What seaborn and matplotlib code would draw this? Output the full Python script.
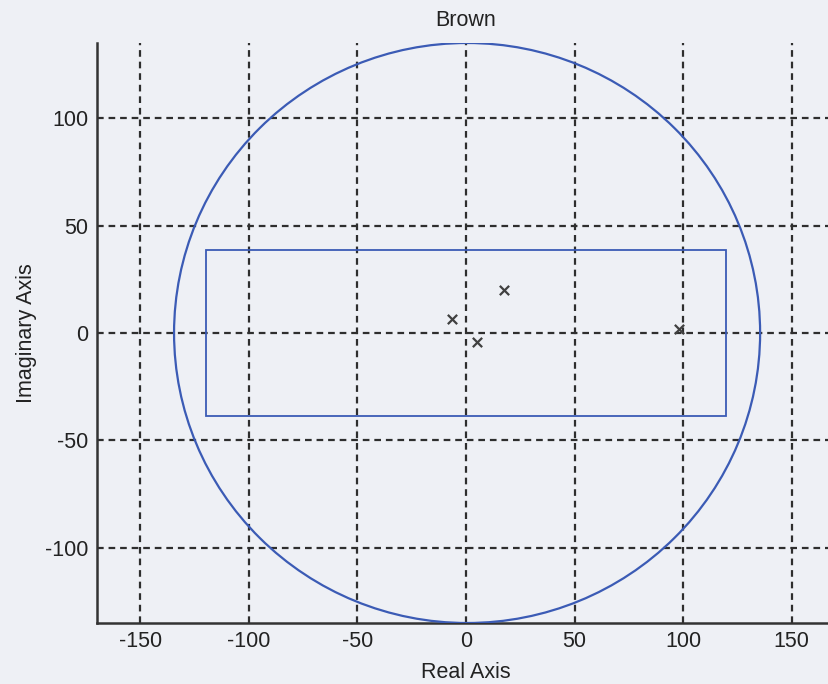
import numpy as np
import pandas as pd
import matplotlib
matplotlib.use("Agg")
import matplotlib.pyplot as plt
from matplotlib.patches import Circle, Rectangle
import seaborn as sns

# Pole locations (real, imaginary)
pole_re = [-6.5, 5.0, 17.5, 98.0]
pole_im = [6.5, -4.2, 20.0, 2.0]

# Stability region: circle radius and rectangular bound
circle_radius = 135.0
rect_re_half = 120.0
rect_im_half = 38.8

x_ticks = [-150, -100, -50, 0, 50, 100, 150]
y_ticks = [-100, -50, 0, 50, 100]

sns.set_theme(style="white")
plt.rcParams["font.family"] = ["Liberation Sans", "DejaVu Sans"]
plt.rcParams["axes.unicode_minus"] = False

bg = "#eef0f5"
fig = plt.figure(figsize=(8.29, 6.84), dpi=100, facecolor=bg)
# axes extend slightly past the right edge of the figure
ax = fig.add_axes([97 / 829, 61 / 684, 738 / 829, 580 / 684])
ax.set_facecolor(bg)

line_col = "#3b5bb5"
ax.add_patch(Circle((0.5, 0), circle_radius, fill=False, color=line_col, lw=1.6, zorder=3))
ax.add_patch(Rectangle((-rect_re_half, -rect_im_half), 2 * rect_re_half, 2 * rect_im_half,
                       fill=False, color=line_col, lw=1.3, zorder=3))

df = pd.DataFrame({"re": pole_re, "im": pole_im})
sns.scatterplot(data=df, x="re", y="im", marker="x", s=45, color="#404040",
                linewidth=1.6, ax=ax, zorder=4)

ax.set_xlim(-170, 170)
ax.set_ylim(-135, 135)
ax.set_xticks(x_ticks)
ax.set_yticks(y_ticks)
ax.grid(True, color="#2e2e2e", linestyle=(0, (3, 2.2)), linewidth=1.6)
ax.set_axisbelow(True)

for side in ["top", "right"]:
    ax.spines[side].set_visible(False)
for side in ["left", "bottom"]:
    ax.spines[side].set_color("#333333")
    ax.spines[side].set_linewidth(1.8)

ax.tick_params(axis="both", labelsize=15.5, colors="#333333", length=5, width=1.2,
               direction="in", pad=6)
ax.tick_params(axis="both", labelcolor="#222222")

ax.set_xlabel("Real Axis", fontsize=15.5, color="#222222", labelpad=7)
ax.set_ylabel("Imaginary Axis", fontsize=15.5, color="#222222", labelpad=6)
ax.set_title("Brown", fontsize=15.5, color="#222222", pad=12)

fig.savefig("out.png", dpi=100, facecolor=bg)
